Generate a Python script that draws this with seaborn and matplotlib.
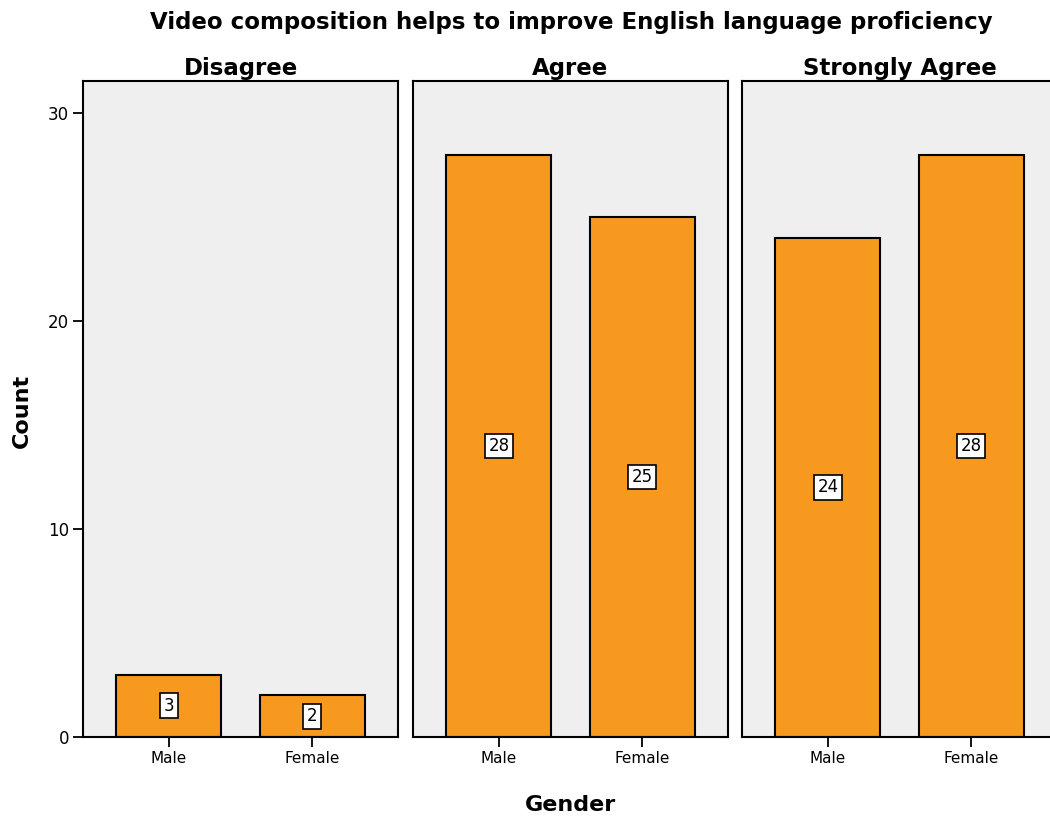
import matplotlib
matplotlib.use("Agg")
import matplotlib.pyplot as plt
import seaborn as sns
import pandas as pd

responses = ["Disagree", "Agree", "Strongly Agree"]
genders = ["Male", "Female"]
male_counts = [3, 28, 24]
female_counts = [2, 25, 28]
y_ticks = [0, 10, 20, 30]

df = pd.DataFrame({
    "response": [r for r in responses for _ in genders],
    "gender": genders * len(responses),
    "count": [v for pair in zip(male_counts, female_counts) for v in pair],
})

sns.set_style("white")
plt.rcParams["font.family"] = ["DejaVu Sans"]
plt.rcParams["text.color"] = "black"
plt.rcParams["xtick.color"] = "black"
plt.rcParams["ytick.color"] = "black"

bar_color = "#F7991F"
panel_bg = "#EFEFEF"

fig = plt.figure(figsize=(10.5, 8.21), dpi=100)

lefts = [83, 413, 742]
panel_w = 315
bottom = (821 - 737) / 821
height = (737 - 81) / 821

for i, resp in enumerate(responses):
    ax = fig.add_axes([lefts[i] / 1050, bottom, panel_w / 1050, height])
    sub = df[df["response"] == resp]
    sns.barplot(data=sub, x="gender", y="count", order=genders, ax=ax,
                color=bar_color, edgecolor="black", linewidth=1.5,
                width=0.733, saturation=1, errorbar=None)
    ax.set_facecolor(panel_bg)
    ax.set_xlim(-0.6, 1.6)
    ax.set_ylim(0, 31.55)
    for s in ax.spines.values():
        s.set_visible(True)
        s.set_color("black")
        s.set_linewidth(1.5)
    ax.set_xlabel("")
    ax.set_ylabel("")
    ax.tick_params(axis="x", direction="out", length=7, width=1.3,
                   labelsize=11, pad=3, bottom=True, colors="black")
    if i == 0:
        ax.set_yticks(y_ticks)
        ax.tick_params(axis="y", direction="out", length=7, width=1.3,
                       labelsize=12, pad=3, left=True, colors="black")
    else:
        ax.set_yticks([])
    ax.set_title(resp, fontsize=16.5, fontweight="bold", pad=4, color="black")
    for j, g in enumerate(genders):
        v = sub.loc[sub["gender"] == g, "count"].iloc[0]
        ax.text(j, v / 2, str(v), ha="center", va="center", fontsize=12,
                color="black",
                bbox=dict(boxstyle="square,pad=0.2", facecolor="white",
                          edgecolor="black", linewidth=1.2))

fig.text(0.544, 0.972, "Video composition helps to improve English language proficiency",
         ha="center", va="center", fontsize=16.5, fontweight="bold", color="black")
fig.text(0.543, 0.019, "Gender", ha="center", va="center", fontsize=16,
         fontweight="bold", color="black")
fig.text(0.021, 0.5, "Count", ha="center", va="center", rotation=90,
         fontsize=16, fontweight="bold", color="black")

fig.savefig("out.png", dpi=100)
